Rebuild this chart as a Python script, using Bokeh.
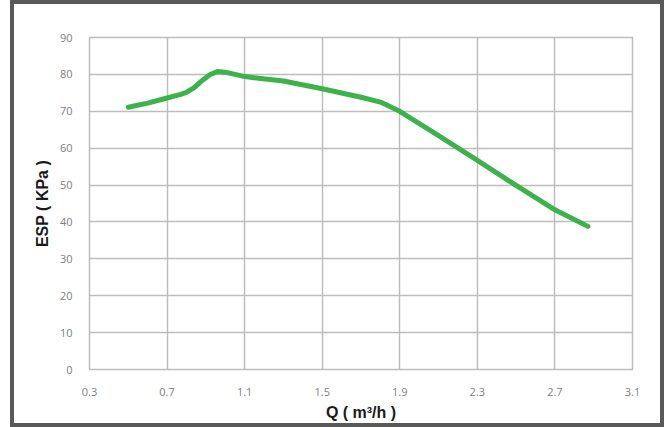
from bokeh.plotting import figure
from bokeh.models import FixedTicker, Range1d
from bokeh.embed import file_html
from bokeh.resources import INLINE

# Data
q = [0.5, 0.6, 0.7, 0.77, 0.8, 0.84, 0.88, 0.92, 0.96, 1.0, 1.05, 1.1, 1.3, 1.5, 1.7, 1.8, 1.9, 2.1, 2.3, 2.5, 2.7, 2.87]
esp = [71.1, 72.2, 73.6, 74.6, 75.1, 76.4, 78.3, 79.9, 80.8, 80.6, 80.0, 79.4, 78.2, 76.1, 73.8, 72.5, 70.0, 63.4, 56.7, 49.9, 43.3, 38.8]

x_ticks = [0.3, 0.7, 1.1, 1.5, 1.9, 2.3, 2.7, 3.1]
x_tick_labels = ["0.3", "0.7", "1.1", "1.5", "1.9", "2.3", "2.7", "3.1"]
y_ticks = [0, 10, 20, 30, 40, 50, 60, 70, 80, 90]
y_tick_labels = ["0", "10", "20", "30", "40", "50", "60", "70", "80", "90"]

x_title = "Q ( m³/h )"
y_title = "ESP ( KPa )"

GRID = "#bdbdbd"
TICK_COLOR = "#808080"
TITLE_COLOR = "#1a1a1a"

p = figure(width=646, height=419, output_backend="svg", toolbar_location=None,
           x_range=Range1d(x_ticks[0], x_ticks[-1]), y_range=Range1d(y_ticks[0], y_ticks[-1]),
           min_border_left=75, min_border_right=28, min_border_top=33, min_border_bottom=54)
p.styles = {"position": "relative", "left": "14px", "top": "4px",
            "outline": "4px solid #595959", "outline-offset": "0px"}
p.background_fill_color = "white"
p.border_fill_color = "white"
p.outline_line_color = GRID
p.outline_line_width = 1.5

p.xaxis.ticker = FixedTicker(ticks=x_ticks)
p.yaxis.ticker = FixedTicker(ticks=y_ticks)
p.xaxis.major_label_overrides = {t: l for t, l in zip(x_ticks, x_tick_labels)}
p.yaxis.major_label_overrides = {t: l for t, l in zip(y_ticks, y_tick_labels)}

for ax in (p.xaxis, p.yaxis):
    ax.axis_line_color = None
    ax.major_tick_line_color = None
    ax.minor_tick_line_color = None
    ax.major_tick_out = 0
    ax.major_tick_in = 0
    ax.major_label_text_font = "Open Sans"
    ax.major_label_text_font_size = "11px"
    ax.major_label_text_color = TICK_COLOR
    ax.axis_label_text_font = "Liberation Sans"
    ax.axis_label_text_font_style = "bold"
    ax.axis_label_text_font_size = "16px"
    ax.axis_label_text_color = TITLE_COLOR

p.xaxis.major_label_standoff = 18
p.yaxis.major_label_standoff = 17
p.xaxis.axis_label = x_title
p.yaxis.axis_label = y_title
p.xaxis.axis_label_standoff = 5
p.yaxis.axis_label_standoff = 6

p.xgrid.grid_line_color = GRID
p.ygrid.grid_line_color = GRID
p.xgrid.grid_line_width = 1.5
p.ygrid.grid_line_width = 1.5

p.line(q, esp, line_color="#3bb34a", line_width=5, line_cap="round", line_join="round")

open("out.html", "w").write(file_html(p, INLINE))
